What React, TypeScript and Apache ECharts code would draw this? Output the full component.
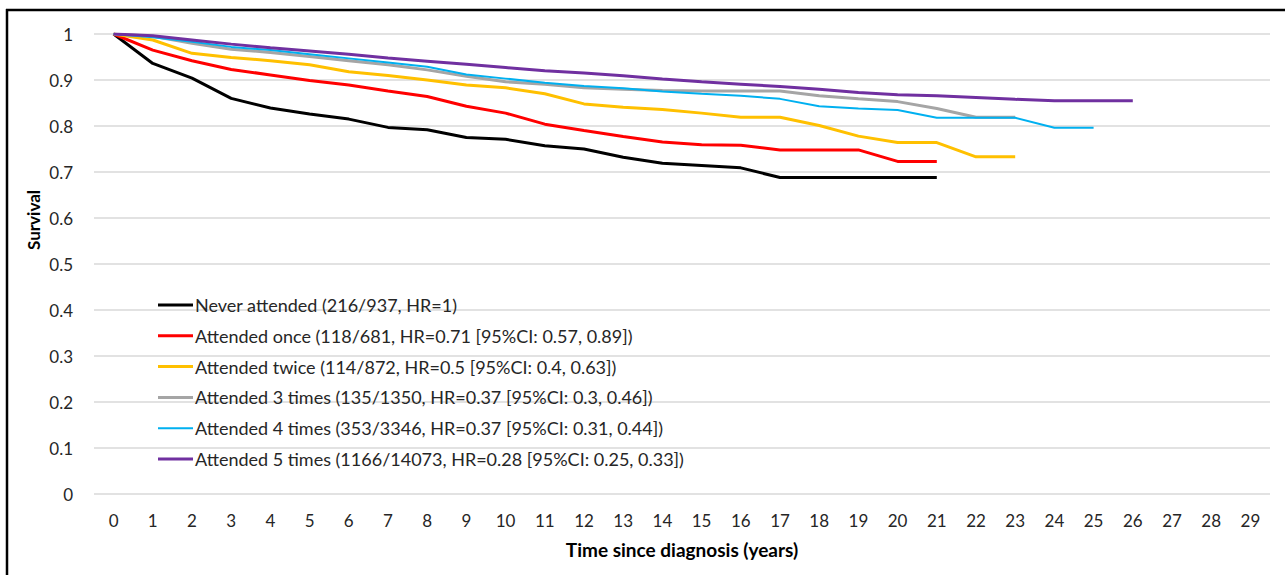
import React, { useEffect, useRef } from "react";
import * as echarts from "echarts";

const years = Array.from({ length: 30 }, (_, i) => String(i));
const yTicks = ["0", "0.1", "0.2", "0.3", "0.4", "0.5", "0.6", "0.7", "0.8", "0.9", "1"];

const seriesNames = [
  "Never attended (216/937, HR=1)",
  "Attended once (118/681, HR=0.71 [95%CI: 0.57, 0.89])",
  "Attended twice (114/872, HR=0.5 [95%CI: 0.4, 0.63])",
  "Attended 3 times (135/1350, HR=0.37 [95%CI: 0.3, 0.46])",
  "Attended 4 times (353/3346, HR=0.37 [95%CI: 0.31, 0.44])",
  "Attended 5 times (1166/14073, HR=0.28 [95%CI: 0.25, 0.33])",
];

const neverAttended = [1, 0.936, 0.904, 0.86, 0.839, 0.826, 0.815, 0.797, 0.792, 0.775, 0.771, 0.757, 0.75, 0.732, 0.719, 0.714, 0.709, 0.688, 0.688, 0.688, 0.688, 0.688];
const attendedOnce = [1, 0.965, 0.942, 0.923, 0.911, 0.899, 0.889, 0.876, 0.864, 0.843, 0.828, 0.804, 0.79, 0.777, 0.765, 0.759, 0.758, 0.748, 0.748, 0.748, 0.723, 0.723];
const attendedTwice = [1, 0.987, 0.958, 0.949, 0.942, 0.933, 0.918, 0.91, 0.9, 0.889, 0.883, 0.87, 0.848, 0.841, 0.836, 0.828, 0.819, 0.819, 0.801, 0.778, 0.764, 0.764, 0.733, 0.733];
const attended3 = [1, 0.995, 0.98, 0.967, 0.96, 0.951, 0.942, 0.933, 0.922, 0.908, 0.896, 0.891, 0.883, 0.88, 0.877, 0.876, 0.876, 0.876, 0.866, 0.859, 0.853, 0.838, 0.819, 0.819];
const attended4 = [1, 0.993, 0.983, 0.972, 0.965, 0.956, 0.947, 0.938, 0.929, 0.912, 0.903, 0.894, 0.887, 0.882, 0.875, 0.87, 0.866, 0.859, 0.843, 0.838, 0.835, 0.818, 0.818, 0.818, 0.796, 0.796];
const attended5 = [1, 0.996, 0.987, 0.978, 0.97, 0.963, 0.956, 0.948, 0.941, 0.934, 0.927, 0.92, 0.915, 0.909, 0.902, 0.896, 0.891, 0.886, 0.88, 0.873, 0.868, 0.866, 0.862, 0.858, 0.855, 0.855, 0.855];

const seriesData = [neverAttended, attendedOnce, attendedTwice, attended3, attended4, attended5];
const colors = ["#000000", "#FF0000", "#FFC000", "#A5A5A5", "#00B0F0", "#7030A0"];
const widths = [3, 3, 3, 3, 2, 3];

const FONT = "Lato";
const THICK_ICON = "path://M0,0 H35 V3 H0 Z";
const THIN_ICON = "path://M0,0.5 H35 V2.5 H0 Z M0,0 H0.01 V0.01 H0 Z M0,2.99 H0.01 V3 H0 Z";

export default function App() {
  const ref = useRef<HTMLDivElement>(null);
  useEffect(() => {
    if (!ref.current) return;
    const chart = echarts.init(ref.current, null, { renderer: "svg" });
    chart.setOption({
      animation: false,
      backgroundColor: "#ffffff",
      textStyle: { fontFamily: FONT },
      grid: { left: 94, right: 15, top: 34, bottom: 81, containLabel: false },
      legend: {
        orient: "vertical",
        left: 158,
        top: 295,
        padding: 0,
        itemWidth: 35,
        itemHeight: 3,
        itemGap: 10.8,
        data: seriesNames.map((name, i) => ({
          name,
          icon: widths[i] === 2 ? THIN_ICON : THICK_ICON,
          itemStyle: { color: colors[i] },
        })),
        textStyle: { fontFamily: FONT, fontSize: 18, color: "#262626", lineHeight: 20, padding: [0, 0, 0, -3] },
      },
      xAxis: {
        type: "category",
        data: years,
        boundaryGap: true,
        axisLine: { show: false },
        axisTick: { show: false },
        axisLabel: { fontFamily: FONT, fontSize: 17, color: "#262626", margin: 18, interval: 0 },
        name: "Time since diagnosis (years)",
        nameLocation: "middle",
        nameGap: 46,
        nameTextStyle: { fontFamily: FONT, fontSize: 19, fontWeight: "bold", color: "#000000" },
      },
      yAxis: {
        type: "value",
        min: 0,
        max: 1,
        interval: 0.1,
        axisLine: { show: false },
        axisTick: { show: false },
        splitLine: { show: true, lineStyle: { color: "#D9D9D9", width: 1.5 } },
        axisLabel: {
          fontFamily: FONT,
          fontSize: 17,
          color: "#262626",
          margin: 21,
          formatter: (v: number) => yTicks[Math.round(v * 10)],
        },
      },
      graphic: [
        {
          type: "text",
          x: 33,
          y: 220,
          rotation: Math.PI / 2,
          style: {
            text: "Survival",
            fontFamily: FONT,
            fontSize: 17,
            fontWeight: "bold",
            fill: "#000000",
            align: "center",
            verticalAlign: "middle",
          },
        },
        { type: "line", shape: { x1: 7, y1: 9, x2: 7, y2: 575 }, style: { stroke: "#000000", lineWidth: 2.5 } },
        { type: "line", shape: { x1: 6, y1: 10, x2: 1285, y2: 10 }, style: { stroke: "#000000", lineWidth: 2.5 } },
      ],
      series: seriesNames.map((name, i) => ({
        name,
        type: "line",
        data: seriesData[i],
        symbol: "none",
        smooth: false,
        color: colors[i],
        lineStyle: { color: colors[i], width: widths[i] },
      })),
    });
    return () => chart.dispose();
  }, []);
  return (
    <div
      ref={ref}
      style={{ position: "fixed", left: 0, top: 0, width: 1285, height: 575 }}
    />
  );
}
